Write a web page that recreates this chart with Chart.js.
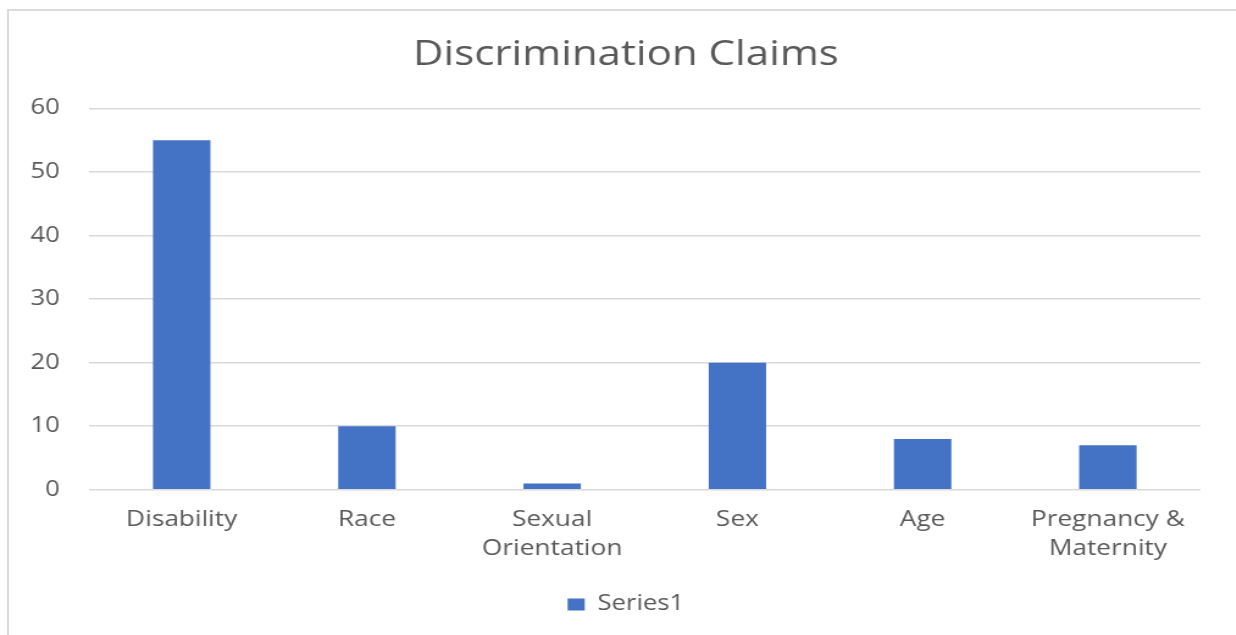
<!DOCTYPE html>
<html>
<head>
<meta charset="utf-8">
<script src="https://cdn.jsdelivr.net/npm/chart.js@4"></script>
<style>
  html, body { margin: 0; padding: 0; background: #fff; overflow: hidden; }
  #wrap { position: relative; width: 1236px; height: 635px; overflow: hidden; }
  #frame { position: absolute; left: 7px; top: 9px; width: 2000px; height: 2000px;
           border: 2px solid #dadada; box-sizing: border-box; }
  /* the reference looks horizontally stretched, so stretch the canvas too */
  #myChart { position: absolute; left: 0; top: 0; transform: scaleX(1.22); transform-origin: 0 0; }
</style>
</head>
<body>
<div id="wrap">
  <div id="frame"></div>
  <canvas id="myChart" width="1013" height="635"></canvas>
</div>
<script>
const categories = ['Disability', 'Race', ['Sexual', 'Orientation'], 'Sex', 'Age', ['Pregnancy &', 'Maternity']];
const series1 = [55, 10, 1, 20, 8, 7];
const yTicks = [0, 10, 20, 30, 40, 50, 60];

const textColor = '#595959';
const gridColor = '#d9d9d9';
const fontFamily = '"Open Sans", "Noto Sans", sans-serif';

const ctx = document.getElementById('myChart').getContext('2d');

const myChart = new Chart(ctx, {
    type: 'bar',
    data: {
        labels: categories,
        datasets: [{
            label: 'Series1',
            data: series1,
            backgroundColor: '#4472C4',
            borderWidth: 0,
            categoryPercentage: 1,
            barPercentage: 0.31
        }]
    },
    options: {
        responsive: false,
        animation: false,
        layout: {
            padding: { left: 13, right: 0, top: 34, bottom: 10 }
        },
        plugins: {
            title: {
                display: true,
                text: 'Discrimination Claims',
                color: textColor,
                font: { family: fontFamily, size: 34.5, weight: 'normal' },
                padding: { top: 0, bottom: 33 }
            },
            legend: {
                position: 'bottom',
                labels: {
                    color: textColor,
                    font: { family: fontFamily, size: 21 },
                    boxWidth: 14,
                    boxHeight: 12,
                    padding: 15
                }
            },
            tooltip: { enabled: false }
        },
        scales: {
            x: {
                grid: { display: false, drawTicks: false },
                border: { display: false },
                ticks: {
                    color: textColor,
                    font: { family: fontFamily, size: 21.5, lineHeight: 1.33 },
                    padding: 16,
                    maxRotation: 0,
                    autoSkip: false
                }
            },
            y: {
                min: yTicks[0],
                max: yTicks[yTicks.length - 1],
                afterBuildTicks: (scale) => {
                    scale.ticks = yTicks.map(v => ({ value: v }));
                },
                afterFit: (scale) => { scale.width = 60; },
                grid: { color: gridColor, lineWidth: 1.5, drawTicks: false },
                border: { display: false },
                ticks: {
                    color: textColor,
                    font: { family: fontFamily, size: 21 },
                    padding: 24
                }
            },
            // empty right-hand spacer so the title and legend stay centred on the whole box
            yRight: {
                type: 'linear',
                axis: 'y',
                position: 'right',
                grid: { display: false, drawTicks: false },
                border: { display: false },
                ticks: { display: false },
                afterFit: (scale) => { scale.width = 29; }
            }
        }
    }
});
</script>
</body>
</html>
